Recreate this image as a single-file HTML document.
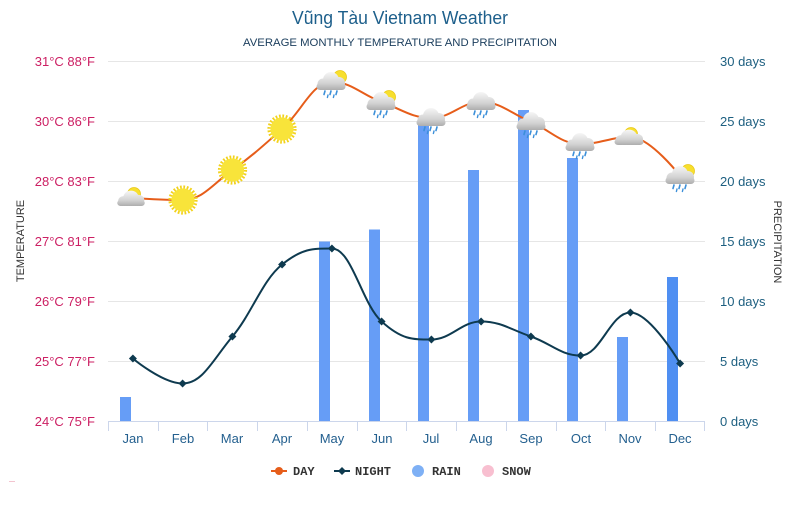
<!DOCTYPE html>
<html>
<head>
<meta charset="utf-8">
<style>
  html,body{margin:0;padding:0;background:#fff;}
  svg{display:block;}
  text{font-family:"Liberation Sans",sans-serif;}
</style>
</head>
<body>
<svg width="800" height="510" viewBox="0 0 800 510" xmlns="http://www.w3.org/2000/svg">
  <defs>
    <linearGradient id="cg" x1="0" y1="-11" x2="0" y2="8" gradientUnits="userSpaceOnUse">
      <stop offset="0" stop-color="#f6f6f6"/>
      <stop offset="0.6" stop-color="#d2d2d2"/>
      <stop offset="1" stop-color="#a8a8a8"/>
    </linearGradient>
    <g id="cloud">
      <circle cx="-8" cy="1" r="5.5" fill="url(#cg)"/>
      <circle cx="0" cy="-3" r="8" fill="url(#cg)"/>
      <circle cx="8" cy="0" r="6" fill="url(#cg)"/>
      <rect x="-14.5" y="0" width="29" height="7" rx="3.5" fill="url(#cg)"/>
    </g>
    <g id="rain">
      <line x1="-6" y1="8" x2="-7" y2="11.5" stroke="#3b8fd9" stroke-width="1.6" stroke-linecap="round"/>
      <line x1="0" y1="8" x2="-1" y2="11.5" stroke="#3b8fd9" stroke-width="1.6" stroke-linecap="round"/>
      <line x1="6" y1="8" x2="5" y2="11.5" stroke="#3b8fd9" stroke-width="1.6" stroke-linecap="round"/>
      <line x1="-3" y1="12" x2="-3.6" y2="14.5" stroke="#3b8fd9" stroke-width="1.4" stroke-linecap="round"/>
      <line x1="3" y1="12" x2="2.4" y2="14.5" stroke="#3b8fd9" stroke-width="1.4" stroke-linecap="round"/>
    </g>
    <g id="bigsun">
      <circle cx="0" cy="0" r="12.8" fill="none" stroke="#f2d21c" stroke-width="3.6" stroke-dasharray="1.7 1.65"/>
      <circle cx="0" cy="0" r="11.6" fill="#f8e43a"/>
    </g>
    <g id="smallsun">
      <circle cx="0" cy="0" r="6.5" fill="#f7df2e"/>
      <circle cx="0" cy="0" r="6.5" fill="none" stroke="#e9c818" stroke-width="0.8"/>
    </g>
  </defs>

  <!-- Title -->
  <text x="400" y="24" text-anchor="middle" font-size="18" fill="#1d5f8b" textLength="216" lengthAdjust="spacingAndGlyphs">Vũng Tàu Vietnam Weather</text>
  <text x="400" y="46" text-anchor="middle" font-size="11" fill="#1a3d5c" textLength="314" lengthAdjust="spacingAndGlyphs">AVERAGE MONTHLY TEMPERATURE AND PRECIPITATION</text>

  <!-- Grid lines -->
  <g stroke="#e6e6e6" stroke-width="1">
    <line x1="108" y1="61.5" x2="705" y2="61.5"/>
    <line x1="108" y1="121.5" x2="705" y2="121.5"/>
    <line x1="108" y1="181.5" x2="705" y2="181.5"/>
    <line x1="108" y1="241.5" x2="705" y2="241.5"/>
    <line x1="108" y1="301.5" x2="705" y2="301.5"/>
    <line x1="108" y1="361.5" x2="705" y2="361.5"/>
  </g>

  <!-- Left axis labels -->
  <g font-size="13" fill="#cc1f63" text-anchor="end">
    <text x="95" y="66">31°C 88°F</text>
    <text x="95" y="126">30°C 86°F</text>
    <text x="95" y="186">28°C 83°F</text>
    <text x="95" y="246">27°C 81°F</text>
    <text x="95" y="306">26°C 79°F</text>
    <text x="95" y="366">25°C 77°F</text>
    <text x="95" y="426">24°C 75°F</text>
  </g>
  <!-- Right axis labels -->
  <g font-size="13" fill="#1d5f80" text-anchor="start">
    <text x="720" y="66">30 days</text>
    <text x="720" y="126">25 days</text>
    <text x="720" y="186">20 days</text>
    <text x="720" y="246">15 days</text>
    <text x="720" y="306">10 days</text>
    <text x="720" y="366">5 days</text>
    <text x="720" y="426">0 days</text>
  </g>

  <!-- Axis titles -->
  <text transform="translate(24,241) rotate(-90)" text-anchor="middle" font-size="11" fill="#333">TEMPERATURE</text>
  <text transform="translate(774,242) rotate(90)" text-anchor="middle" font-size="11" fill="#333">PRECIPITATION</text>

  <!-- Rain bars -->
  <g fill="#669df6">
    <rect x="120" y="397" width="11" height="24"/>
    <rect x="319" y="241.5" width="11" height="179.5"/>
    <rect x="369" y="229.5" width="11" height="191.5"/>
    <rect x="418" y="122" width="11" height="299"/>
    <rect x="468" y="170" width="11" height="251"/>
    <rect x="518" y="110" width="11" height="311"/>
    <rect x="567" y="158" width="11" height="263"/>
    <rect x="617" y="337" width="11" height="84"/>
  </g>
  <rect x="667" y="277" width="11" height="144" fill="#4f8ff2"/>

  <!-- X axis -->
  <line x1="108" y1="421.5" x2="705" y2="421.5" stroke="#ccd6eb" stroke-width="1"/>
  <g stroke="#ccd6eb" stroke-width="1">
    <line x1="108.5" y1="421" x2="108.5" y2="431"/>
    <line x1="158.5" y1="421" x2="158.5" y2="431"/>
    <line x1="207.5" y1="421" x2="207.5" y2="431"/>
    <line x1="257.5" y1="421" x2="257.5" y2="431"/>
    <line x1="307.5" y1="421" x2="307.5" y2="431"/>
    <line x1="357.5" y1="421" x2="357.5" y2="431"/>
    <line x1="406.5" y1="421" x2="406.5" y2="431"/>
    <line x1="456.5" y1="421" x2="456.5" y2="431"/>
    <line x1="506.5" y1="421" x2="506.5" y2="431"/>
    <line x1="556.5" y1="421" x2="556.5" y2="431"/>
    <line x1="605.5" y1="421" x2="605.5" y2="431"/>
    <line x1="655.5" y1="421" x2="655.5" y2="431"/>
    <line x1="704.5" y1="421" x2="704.5" y2="431"/>
  </g>
  <g font-size="13" fill="#24608f" text-anchor="middle">
    <text x="133" y="443">Jan</text>
    <text x="183" y="443">Feb</text>
    <text x="232" y="443">Mar</text>
    <text x="282" y="443">Apr</text>
    <text x="332" y="443">May</text>
    <text x="382" y="443">Jun</text>
    <text x="431" y="443">Jul</text>
    <text x="481" y="443">Aug</text>
    <text x="531" y="443">Sep</text>
    <text x="581" y="443">Oct</text>
    <text x="630" y="443">Nov</text>
    <text x="680" y="443">Dec</text>
  </g>

  <!-- Night line -->
  <path d="M132.9,358.5 C132.9,358.5 162.7,383.5 182.6,383.5 C202.5,383.5 212.5,360.3 232.4,336.5 C252.3,312.7 262.2,280.5 282.1,264.5 C302,248.5 312,248.5 331.9,248.5 C351.8,248.5 361.7,303.5 381.6,321.5 C401.5,339.5 411.5,339.5 431.4,339.5 C451.3,339.5 461.2,321.5 481.1,321.5 C501,321.5 511,329.7 530.9,336.5 C550.8,343.3 560.7,355.5 580.6,355.5 C600.5,355.5 610.5,312.5 630.4,312.5 C650.3,312.5 680.1,363.5 680.1,363.5" fill="none" stroke="#0e3a4f" stroke-width="2"/>
  <g fill="#0e3a4f">
    <path d="M132.9,354.5 l4,4 l-4,4 l-4,-4 z"/>
    <path d="M182.6,379.5 l4,4 l-4,4 l-4,-4 z"/>
    <path d="M232.4,332.5 l4,4 l-4,4 l-4,-4 z"/>
    <path d="M282.1,260.5 l4,4 l-4,4 l-4,-4 z"/>
    <path d="M331.9,244.5 l4,4 l-4,4 l-4,-4 z"/>
    <path d="M381.6,317.5 l4,4 l-4,4 l-4,-4 z"/>
    <path d="M431.4,335.5 l4,4 l-4,4 l-4,-4 z"/>
    <path d="M481.1,317.5 l4,4 l-4,4 l-4,-4 z"/>
    <path d="M530.9,332.5 l4,4 l-4,4 l-4,-4 z"/>
    <path d="M580.6,351.5 l4,4 l-4,4 l-4,-4 z"/>
    <path d="M630.4,308.5 l4,4 l-4,4 l-4,-4 z"/>
    <path d="M680.1,359.5 l4,4 l-4,4 l-4,-4 z"/>
  </g>

  <!-- Day line -->
  <path d="M132.9,198 C132.9,198 162.7,200 182.6,200 C202.5,200 212.5,184.2 232.4,170 C252.3,155.8 262.2,146.6 282.1,129 C302,111.4 312,82 331.9,82 C351.8,82 361.7,94.8 381.6,102 C401.5,109.2 411.5,118 431.4,118 C451.3,118 461.2,102 481.1,102 C501,102 511,113.6 530.9,122 C550.8,130.4 560.7,144 580.6,144 C600.5,144 610.5,137 630.4,137 C650.3,137 680.1,176 680.1,176" fill="none" stroke="#e65d1a" stroke-width="2"/>

  <!-- Weather icons -->
  <!-- Jan partly cloudy -->
  <use href="#smallsun" transform="translate(134,194)"/>
  <use href="#cloud" transform="translate(131,200) scale(0.95,0.85)"/>
  <!-- Feb/Mar/Apr suns -->
  <use href="#bigsun" transform="translate(183,200)"/>
  <use href="#bigsun" transform="translate(232.5,170)"/>
  <use href="#bigsun" transform="translate(282,129)"/>
  <!-- May -->
  <use href="#smallsun" transform="translate(340,77)"/>
  <use href="#cloud" transform="translate(331,83)"/>
  <use href="#rain" transform="translate(331,83)"/>
  <!-- Jun -->
  <use href="#smallsun" transform="translate(389,97)"/>
  <use href="#cloud" transform="translate(381,103)"/>
  <use href="#rain" transform="translate(381,103)"/>
  <!-- Jul -->
  <use href="#cloud" transform="translate(431,119)"/>
  <use href="#rain" transform="translate(431,119)"/>
  <!-- Aug -->
  <use href="#cloud" transform="translate(481,103)"/>
  <use href="#rain" transform="translate(481,103)"/>
  <!-- Sep -->
  <use href="#cloud" transform="translate(531,123)"/>
  <use href="#rain" transform="translate(531,123)"/>
  <!-- Oct -->
  <use href="#cloud" transform="translate(580,144)"/>
  <use href="#rain" transform="translate(580,144)"/>
  <!-- Nov partly cloudy -->
  <use href="#smallsun" transform="translate(631,134)"/>
  <use href="#cloud" transform="translate(629,139) scale(1,0.85)"/>
  <!-- Dec -->
  <use href="#smallsun" transform="translate(688,171)"/>
  <use href="#cloud" transform="translate(680,177)"/>
  <use href="#rain" transform="translate(680,177)"/>

  <!-- Legend -->
  <line x1="271" y1="471" x2="287" y2="471" stroke="#e65d1a" stroke-width="2"/>
  <circle cx="279" cy="471" r="4" fill="#e65d1a"/>
  <line x1="334" y1="471" x2="350" y2="471" stroke="#0e3a4f" stroke-width="2"/>
  <path d="M342,467 l4,4 l-4,4 l-4,-4 z" fill="#0e3a4f"/>
  <circle cx="418" cy="471" r="6" fill="#7eb0f5"/>
  <circle cx="488" cy="471" r="6" fill="#f8bfd0"/>
  <g font-family="Liberation Mono, monospace" font-weight="bold" font-size="12" fill="#333">
    <text x="293" y="475" style="font-family:'Liberation Mono',monospace">DAY</text>
    <text x="355" y="475" style="font-family:'Liberation Mono',monospace">NIGHT</text>
    <text x="432" y="475" style="font-family:'Liberation Mono',monospace">RAIN</text>
    <text x="502" y="475" style="font-family:'Liberation Mono',monospace">SNOW</text>
  </g>

  <!-- faint mark bottom-left -->
  <line x1="9" y1="481.5" x2="15" y2="481.5" stroke="#f3c4cf" stroke-width="1"/>
</svg>
</body>
</html>
